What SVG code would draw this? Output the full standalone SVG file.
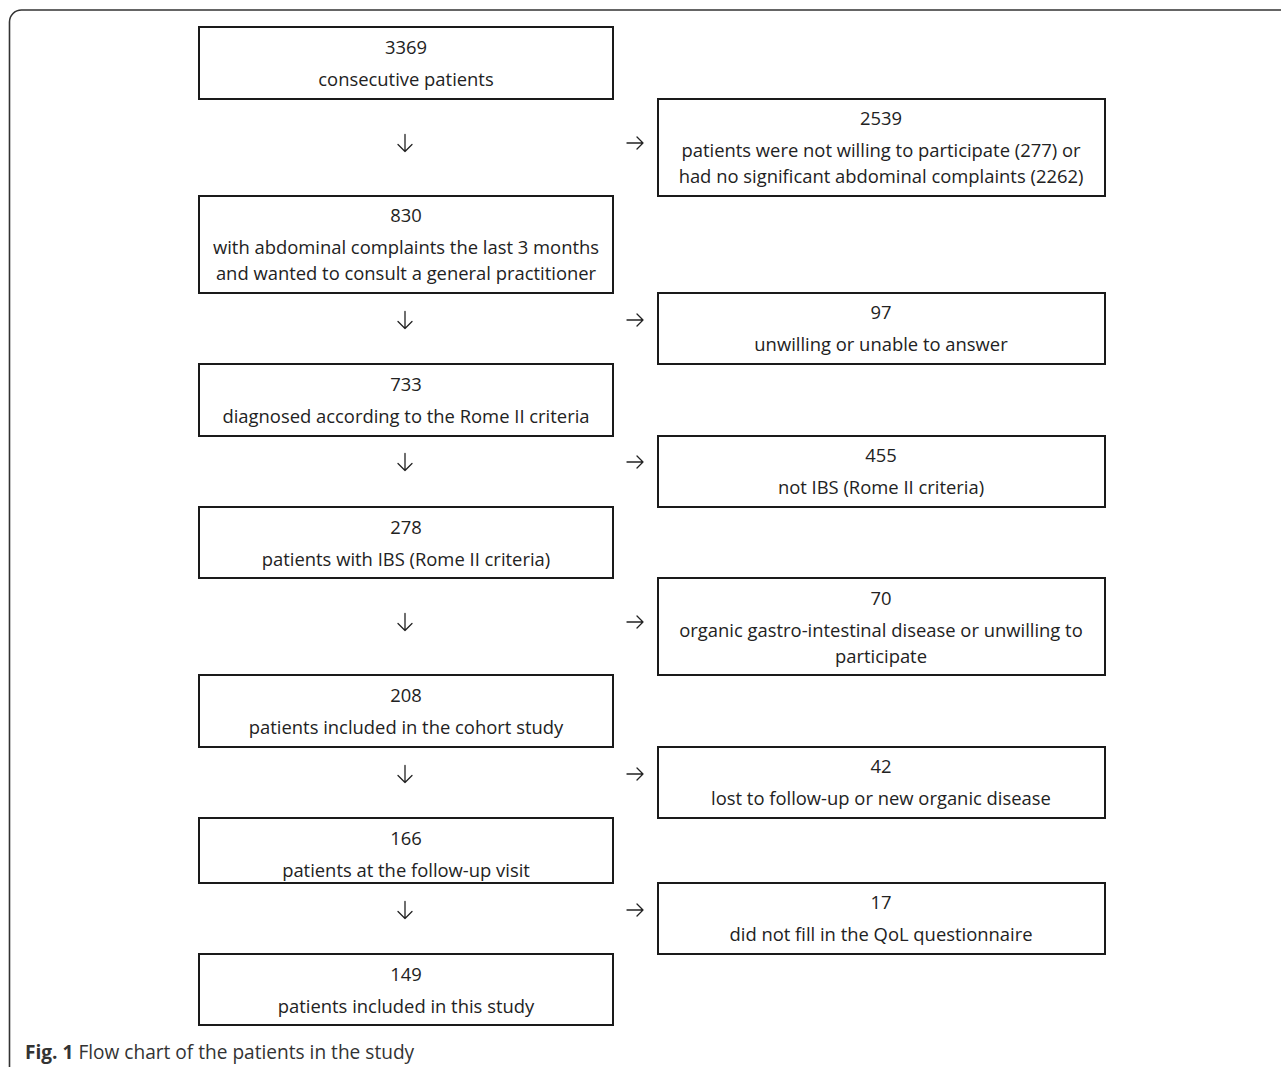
<svg xmlns="http://www.w3.org/2000/svg" width="1281" height="1067" viewBox="0 0 1281 1067">
<style>
.box{fill:#fff;stroke:#1a1a1a;stroke-width:2}
.t{font-family:"Open Sans","Liberation Sans",sans-serif;font-size:18.4px;fill:#222;text-anchor:middle}
.arr{fill:none;stroke:#222;stroke-width:1.3;stroke-linecap:round;stroke-linejoin:round}
.cap{font-family:"Open Sans","Liberation Sans",sans-serif;font-size:19.1px;fill:#333}
</style>
<rect width="1281" height="1067" fill="#fff"/>
<path d="M9.5 1067 V22 A12 12 0 0 1 21.5 10 H1281" fill="none" stroke="#333" stroke-width="1.6"/>
<g id="n1"><rect class="box" x="199" y="27" width="414" height="72"/><text class="t" x="406" y="54">3369</text><text class="t" x="406" y="86">consecutive patients</text></g>
<g id="n2"><rect class="box" x="658" y="99" width="447" height="97"/><text class="t" x="881" y="125">2539</text><text class="t" x="881" y="157">patients were not willing to participate (277) or</text><text class="t" x="881" y="183">had no significant abdominal complaints (2262)</text></g>
<g id="n3"><rect class="box" x="199" y="196" width="414" height="97"/><text class="t" x="406" y="222">830</text><text class="t" x="406" y="254">with abdominal complaints the last 3 months</text><text class="t" x="406" y="280">and wanted to consult a general practitioner</text></g>
<g id="n4"><rect class="box" x="658" y="293" width="447" height="71"/><text class="t" x="881" y="319">97</text><text class="t" x="881" y="351">unwilling or unable to answer</text></g>
<g id="n5"><rect class="box" x="199" y="364" width="414" height="72"/><text class="t" x="406" y="391">733</text><text class="t" x="406" y="423">diagnosed according to the Rome II criteria</text></g>
<g id="n6"><rect class="box" x="658" y="436" width="447" height="71"/><text class="t" x="881" y="462">455</text><text class="t" x="881" y="494">not IBS (Rome II criteria)</text></g>
<g id="n7"><rect class="box" x="199" y="507" width="414" height="71"/><text class="t" x="406" y="534">278</text><text class="t" x="406" y="566">patients with IBS (Rome II criteria)</text></g>
<g id="n8"><rect class="box" x="658" y="578" width="447" height="97"/><text class="t" x="881" y="605">70</text><text class="t" x="881" y="637">organic gastro-intestinal disease or unwilling to</text><text class="t" x="881" y="663">participate</text></g>
<g id="n9"><rect class="box" x="199" y="675" width="414" height="72"/><text class="t" x="406" y="702">208</text><text class="t" x="406" y="734">patients included in the cohort study</text></g>
<g id="n10"><rect class="box" x="658" y="747" width="447" height="71"/><text class="t" x="881" y="773">42</text><text class="t" x="881" y="805">lost to follow-up or new organic disease</text></g>
<g id="n11"><rect class="box" x="199" y="818" width="414" height="65"/><text class="t" x="406" y="845">166</text><text class="t" x="406" y="877">patients at the follow-up visit</text></g>
<g id="n12"><rect class="box" x="658" y="883" width="447" height="71"/><text class="t" x="881" y="909">17</text><text class="t" x="881" y="941">did not fill in the QoL questionnaire</text></g>
<g id="n13"><rect class="box" x="199" y="954" width="414" height="71"/><text class="t" x="406" y="981">149</text><text class="t" x="406" y="1013">patients included in this study</text></g>
<g id="connectors">
<defs>
<path id="dn" class="arr" d="M0 -8.5 V8.5 M-7 1.5 L0 8.5 L7 1.5"/>
<path id="rt" class="arr" d="M-8 0 H8 M2 -6 L8 0 L2 6"/>
</defs>
<use href="#dn" x="405" y="143"/><use href="#rt" x="635" y="143"/>
<use href="#dn" x="405" y="320"/><use href="#rt" x="635" y="320"/>
<use href="#dn" x="405" y="462"/><use href="#rt" x="635" y="462"/>
<use href="#dn" x="405" y="622"/><use href="#rt" x="635" y="622"/>
<use href="#dn" x="405" y="774"/><use href="#rt" x="635" y="774"/>
<use href="#dn" x="405" y="910"/><use href="#rt" x="635" y="910"/>
</g>
<text class="cap" x="25" y="1059"><tspan font-weight="bold">Fig. 1</tspan> Flow chart of the patients in the study</text>
</svg>
